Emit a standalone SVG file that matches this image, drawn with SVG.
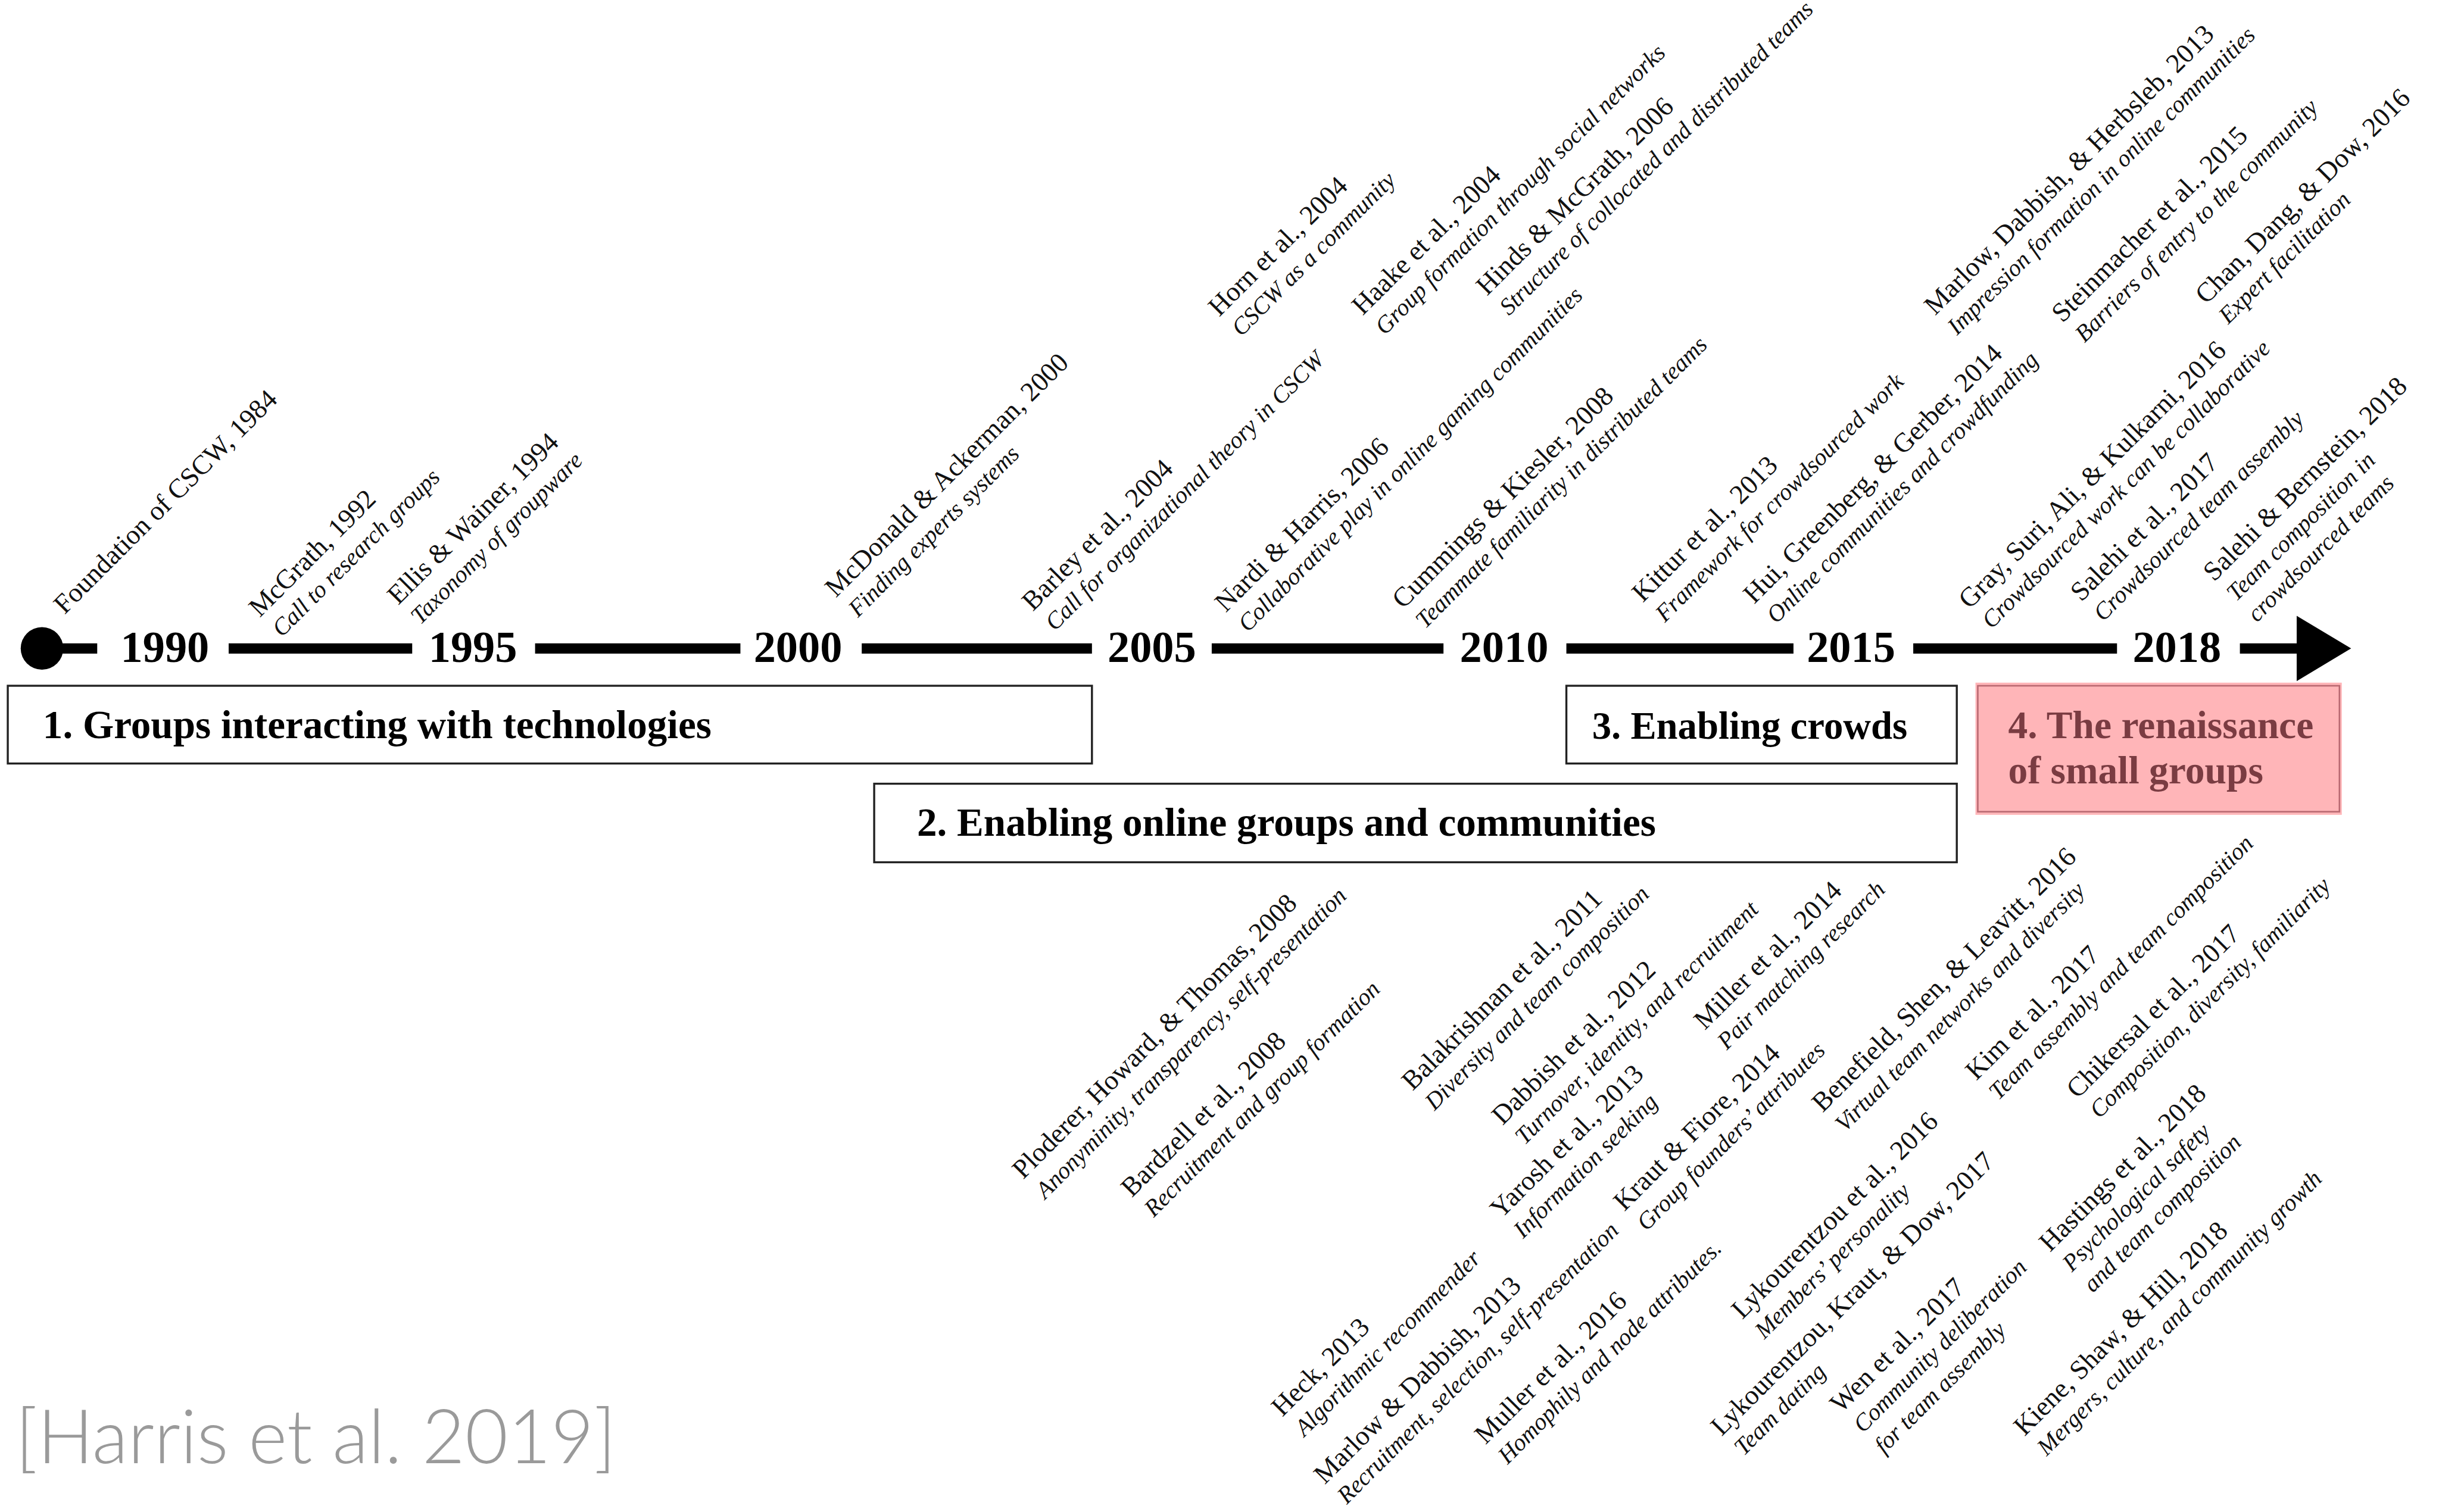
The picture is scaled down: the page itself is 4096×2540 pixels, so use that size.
<svg xmlns="http://www.w3.org/2000/svg" width="4096" height="2540" viewBox="0 0 4096 2540">
<style>
.t{font-family:"Liberation Serif",serif;font-size:17.5px;fill:#111}
.s{font-family:"Liberation Serif",serif;font-size:15.4px;font-style:italic;fill:#111}
.yr{font-family:"Liberation Serif",serif;font-weight:bold;font-size:28.5px;text-anchor:middle;fill:#000}
.bx{fill:#fff;stroke:#222;stroke-width:1.3}
.bt{font-family:"Liberation Serif",serif;font-weight:bold;font-size:25.7px;fill:#000}
.seg{stroke:#000;stroke-width:6.6;fill:none}
</style>
<rect width="4096" height="2540" fill="#fff"/>
<g transform="scale(2.612245)">
<g id="connectors">
<g id="timeline">
<circle cx="27" cy="417" r="13.7" fill="#000"/>
<line class="seg" x1="27" y1="417" x2="62.5" y2="417"/>
<line class="seg" x1="147" y1="417" x2="265" y2="417"/>
<line class="seg" x1="344" y1="417" x2="476" y2="417"/>
<line class="seg" x1="554" y1="417" x2="702" y2="417"/>
<line class="seg" x1="779" y1="417" x2="928" y2="417"/>
<line class="seg" x1="1007" y1="417" x2="1153" y2="417"/>
<line class="seg" x1="1230" y1="417" x2="1361" y2="417"/>
<line class="seg" x1="1440" y1="417" x2="1478" y2="417"/>
<polygon points="1476.5,396 1511.5,417 1476.5,438" fill="#000"/>
</g>
</g>
<g id="years">
<text class="yr" x="106" y="425.5">1990</text>
<text class="yr" x="304" y="425.5">1995</text>
<text class="yr" x="513" y="425.5">2000</text>
<text class="yr" x="740.5" y="425.5">2005</text>
<text class="yr" x="967" y="425.5">2010</text>
<text class="yr" x="1190" y="425.5">2015</text>
<text class="yr" x="1399.5" y="425.5">2018</text>
</g>
<g id="era1"><rect class="bx" x="5" y="441" width="697" height="50"/><text class="bt" x="27.5" y="474.6">1. Groups interacting with technologies</text></g>
<g id="era2"><rect class="bx" x="562" y="504" width="696" height="50.5"/><text class="bt" x="589.5" y="537.5">2. Enabling online groups and communities</text></g>
<g id="era3"><rect class="bx" x="1007" y="441" width="251" height="50"/><text class="bt" x="1023.5" y="475" style="font-size:24.8px">3. Enabling crowds</text></g>
<g id="era4"><rect x="1270" y="439" width="235.5" height="85" fill="#FFB5B8"/><rect x="1271.5" y="441" width="232.5" height="81" fill="none" stroke="#B96A72" stroke-width="1"/><text class="bt" x="1291" y="474.6" style="fill:#7a3c42;font-size:25.1px">4. The renaissance</text><text class="bt" x="1291" y="503.7" style="fill:#7a3c42;font-size:25.1px">of small groups</text></g>

<g id="labels" transform="translate(5,1.5)">
<g id="foundation" transform="translate(36.5,394) rotate(-45)"><text class="t">Foundation of CSCW, 1984</text></g>
<g id="mcgrath" transform="translate(162,396) rotate(-45)"><text class="t">McGrath, 1992</text><text class="s" x="1" y="19">Call to research groups</text></g>
<g id="ellis" transform="translate(251,388) rotate(-45)"><text class="t">Ellis &amp; Wainer, 1994</text><text class="s" x="1" y="19">Taxonomy of groupware</text></g>
<g id="mcdonald" transform="translate(532.4,383.2) rotate(-45)"><text class="t">McDonald &amp; Ackerman, 2000</text><text class="s" x="1" y="19">Finding experts systems</text></g>
<g id="barley" transform="translate(659,392) rotate(-45)"><text class="t">Barley et al., 2004</text><text class="s" x="1" y="19">Call for organizational theory in CSCW</text></g>
<g id="horn" transform="translate(778.8,202.6) rotate(-45)"><text class="t">Horn et al., 2004</text><text class="s" x="1" y="19">CSCW as a community</text></g>
<g id="haake" transform="translate(871.1,201.8) rotate(-45)"><text class="t">Haake et al., 2004</text><text class="s" x="1" y="19">Group formation through social networks</text></g>
<g id="hinds" transform="translate(951,189.1) rotate(-45)"><text class="t">Hinds &amp; McGrath, 2006</text><text class="s" x="1" y="19">Structure of collocated and distributed teams</text></g>
<g id="nardi" transform="translate(783,392.8) rotate(-45)"><text class="t">Nardi &amp; Harris, 2006</text><text class="s" x="1" y="19">Collaborative play in online gaming communities</text></g>
<g id="cummings" transform="translate(897,390.6) rotate(-45)"><text class="t">Cummings &amp; Kiesler, 2008</text><text class="s" x="1" y="19">Teammate familiarity in distributed teams</text></g>
<g id="kittur" transform="translate(1051.2,386.4) rotate(-45)"><text class="t">Kittur et al., 2013</text><text class="s" x="1" y="19">Framework for crowdsourced work</text></g>
<g id="hui" transform="translate(1122.8,387.3) rotate(-45)"><text class="t">Hui, Greenberg, &amp; Gerber, 2014</text><text class="s" x="1" y="19">Online communities and crowdfunding</text></g>
<g id="marlow2013" transform="translate(1239,201.8) rotate(-45)"><text class="t">Marlow, Dabbish, &amp; Herbsleb, 2013</text><text class="s" x="1" y="19">Impression formation in online communities</text></g>
<g id="steinmacher" transform="translate(1321,206.6) rotate(-45)"><text class="t">Steinmacher et al., 2015</text><text class="s" x="1" y="19">Barriers of entry to the community</text></g>
<g id="chan" transform="translate(1413.3,194.7) rotate(-45)"><text class="t">Chan, Dang, &amp; Dow, 2016</text><text class="s" x="1" y="19">Expert facilitation</text></g>
<g id="gray" transform="translate(1261.2,390.7) rotate(-45)"><text class="t">Gray, Suri, Ali, &amp; Kulkarni, 2016</text><text class="s" x="1" y="19">Crowdsourced work can be collaborative</text></g>
<g id="salehi2017" transform="translate(1333,385.9) rotate(-45)"><text class="t">Salehi et al., 2017</text><text class="s" x="1" y="19">Crowdsourced team assembly</text></g>
<g id="salehi2018" transform="translate(1418.4,373) rotate(-45)"><text class="t">Salehi &amp; Bernstein, 2018</text><text class="s" x="1" y="19">Team composition in</text><text class="s" x="1" y="38">crowdsourced teams</text></g>

<g id="ploderer" transform="translate(652.8,757.3) rotate(-45)"><text class="t">Ploderer, Howard, &amp; Thomas, 2008</text><text class="s" x="1" y="19">Anonyminity, transparency, self-presentation</text></g>
<g id="bardzell" transform="translate(722.6,769) rotate(-45)"><text class="t">Bardzell et al., 2008</text><text class="s" x="1" y="19">Recruitment and group formation</text></g>
<g id="balakrishnan" transform="translate(903.1,700.4) rotate(-45)"><text class="t">Balakrishnan et al., 2011</text><text class="s" x="1" y="19">Diversity and team composition</text></g>
<g id="dabbish2012" transform="translate(961,722.6) rotate(-45)"><text class="t">Dabbish et al., 2012</text><text class="s" x="1" y="19">Turnover, identity, and recruitment</text></g>
<g id="miller" transform="translate(1091,661.3) rotate(-45)"><text class="t">Miller et al., 2014</text><text class="s" x="1" y="19">Pair matching research</text></g>
<g id="yarosh" transform="translate(960,782.7) rotate(-45)"><text class="t">Yarosh et al., 2013</text><text class="s" x="1" y="19">Information seeking</text></g>
<g id="kraut" transform="translate(1039.3,777.9) rotate(-45)"><text class="t">Kraut &amp; Fiore, 2014</text><text class="s" x="1" y="19">Group founders’ attributes</text></g>
<g id="benefield" transform="translate(1166.8,714.4) rotate(-45)"><text class="t">Benefield, Shen, &amp; Leavitt, 2016</text><text class="s" x="1" y="19">Virtual team networks and diversity</text></g>
<g id="kim" transform="translate(1265.6,693.8) rotate(-45)"><text class="t">Kim et al., 2017</text><text class="s" x="1" y="19">Team assembly and team composition</text></g>
<g id="chikersal" transform="translate(1330.5,705.6) rotate(-45)"><text class="t">Chikersal et al., 2017</text><text class="s" x="1" y="19">Composition, diversity, familiarity</text></g>
<g id="heck" transform="translate(819.4,910.1) rotate(-45)"><text class="t">Heck, 2013</text><text class="s" x="1" y="19">Algorithmic recommender</text></g>
<g id="marlowdabbish" transform="translate(846.7,953.5) rotate(-45)"><text class="t">Marlow &amp; Dabbish, 2013</text><text class="s" x="1" y="19">Recruitment, selection, self-presentation</text></g>
<g id="muller" transform="translate(950,927.9) rotate(-45)"><text class="t">Muller et al., 2016</text><text class="s" x="1" y="19">Homophily and node attributes.</text></g>
<g id="lyko2016" transform="translate(1115.1,847.4) rotate(-45)"><text class="t">Lykourentzou et al., 2016</text><text class="s" x="1" y="19">Members’ personality</text></g>
<g id="lyko2017" transform="translate(1101.8,922.5) rotate(-45)"><text class="t">Lykourentzou, Kraut, &amp; Dow, 2017</text><text class="s" x="1" y="19">Team dating</text></g>
<g id="wen" transform="translate(1178.6,907.8) rotate(-45)"><text class="t">Wen et al., 2017</text><text class="s" x="1" y="19">Community deliberation</text><text class="s" x="1" y="38">for team assembly</text></g>
<g id="hastings" transform="translate(1312.9,804.1) rotate(-45)"><text class="t">Hastings et al., 2018</text><text class="s" x="1" y="19">Psychological safety</text><text class="s" x="1" y="38">and team composition</text></g>
<g id="kiene" transform="translate(1296.6,922.5) rotate(-45)"><text class="t">Kiene, Shaw, &amp; Hill, 2018</text><text class="s" x="1" y="19">Mergers, culture, and community growth</text></g>
</g>

<g id="citation"><text x="10" y="941" textLength="386" lengthAdjust="spacingAndGlyphs" style="font-family:Lato,'Liberation Sans',sans-serif;font-weight:300;font-size:48px;fill:#9a9a9a">[Harris et al. 2019]</text></g>
</g>
</svg>
